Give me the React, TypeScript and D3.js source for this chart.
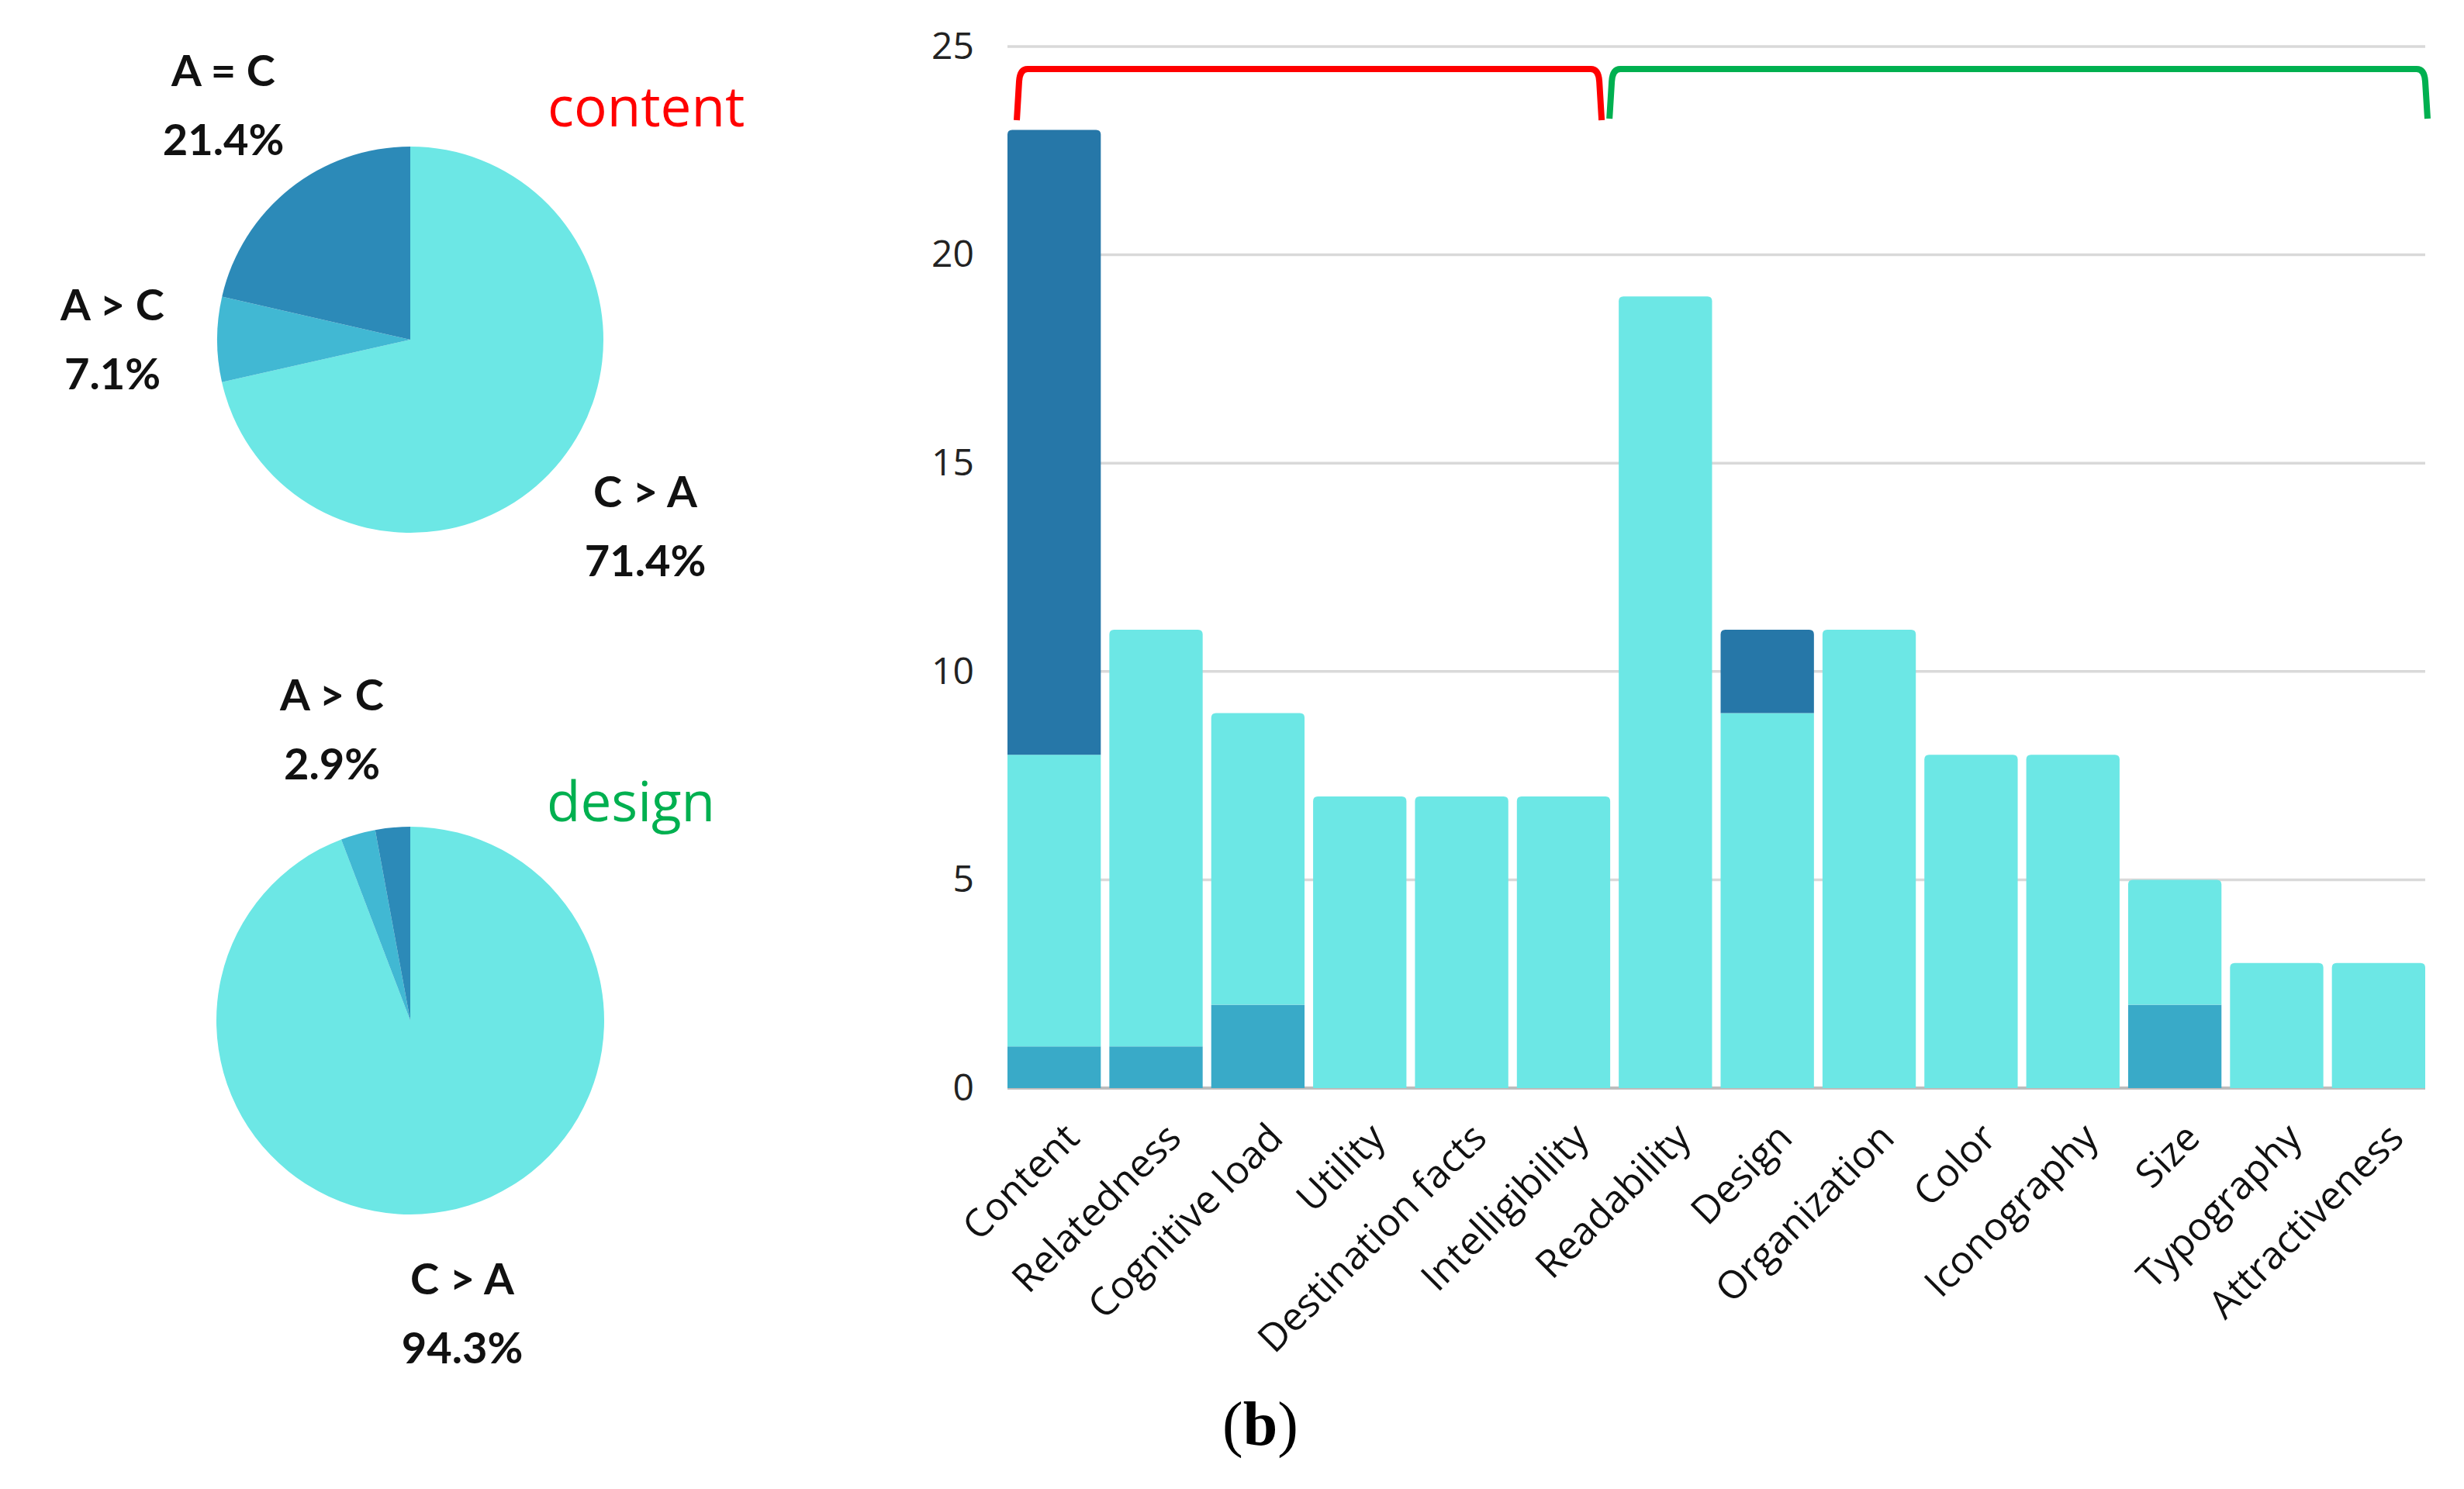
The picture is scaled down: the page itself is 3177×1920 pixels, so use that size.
import React from 'react';
import * as d3 from 'd3';

const categories = ['Content', 'Relatedness', 'Cognitive load', 'Utility', 'Destination facts', 'Intelligibility', 'Readability', 'Design', 'Organization', 'Color', 'Iconography', 'Size', 'Typography', 'Attractiveness'];
const aGreaterC = [1, 1, 2, 0, 0, 0, 0, 0, 0, 0, 0, 2, 0, 0];
const cGreaterA = [7, 10, 7, 7, 7, 7, 19, 9, 11, 8, 8, 3, 3, 3];
const aEqualC = [15, 0, 0, 0, 0, 0, 0, 2, 0, 0, 0, 0, 0, 0];
const yTicks = [0, 5, 10, 15, 20, 25];

const pieKeys = ['C > A', 'A > C', 'A = C'];
const contentPie = [71.4, 7.1, 21.4];
const designPie = [94.3, 2.9, 2.9];
const contentGroup = ['Content', 'Intelligibility'];
const designGroup = ['Readability', 'Attractiveness'];

const W = 3177;
const H = 1920;

const barColors = ['#39AAC8', '#6CE7E5', '#2677A8'];
const pieColors = ['#6CE7E5', '#41B8D3', '#2C8AB8'];

function topRounded(x: number, y: number, w: number, h: number, r: number) {
  const rr = Math.min(r, h);
  return `M${x},${y + h}V${y + rr}Q${x},${y} ${x + rr},${y}H${x + w - rr}Q${x + w},${y} ${x + w},${y + rr}V${y + h}Z`;
}

function bracket(x0: number, x1: number, yTop: number, yBot: number) {
  return `M${x0},${yBot}L${x0 + 3},${yTop + 16}Q${x0 + 4},${yTop} ${x0 + 14},${yTop}H${x1 - 14}Q${x1 - 4},${yTop} ${x1 - 3},${yTop + 16}L${x1},${yBot}`;
}

function Pie({ values, cx, cy, r }: { values: number[]; cx: number; cy: number; r: number }) {
  const arcs = d3.pie<number>().sort(null).startAngle(0).endAngle(2 * Math.PI)(values);
  const arc = d3.arc<d3.PieArcDatum<number>>().innerRadius(0).outerRadius(r);
  return (
    <g transform={`translate(${cx},${cy})`}>
      {arcs.map((a, i) => (
        <path key={i} d={arc(a) || ''} fill={pieColors[i]} />
      ))}
    </g>
  );
}

function PieLabel({ x, y, title, value }: { x: number; y: number; title: string; value: number }) {
  return (
    <g fontFamily="Lato, 'Open Sans', sans-serif" fontWeight={700} fontSize={56} fill="#111" textAnchor="middle">
      <text x={x} y={y}>{title}</text>
      <text x={x} y={y + 89}>{value.toFixed(1)}%</text>
    </g>
  );
}

export default function App() {
  const x = d3.scaleBand<string>().domain(categories).range([1299, 3127]).paddingInner(0.084).paddingOuter(0);
  const y = d3.scaleLinear().domain([0, 25]).range([1403, 60]);
  const bw = x.bandwidth();

  const stackData = categories.map((c, i) => ({ c, a: aGreaterC[i], b: cGreaterA[i], e: aEqualC[i] }));
  const series = d3.stack<any>().keys(['a', 'b', 'e'])(stackData);

  const redX0 = (x(contentGroup[0]) || 0) + 12;
  const redX1 = (x(contentGroup[1]) || 0) + bw - 11;
  const greenX0 = (x(designGroup[0]) || 0) - 12;
  const greenX1 = (x(designGroup[1]) || 0) + bw + 3;

  return (
    <svg width={W} height={H} style={{ position: 'absolute', left: 0, top: 0, background: '#fff' }}>
      <rect x={0} y={0} width={W} height={H} fill="#fff" />

      {/* Pies */}
      <Pie values={contentPie} cx={529} cy={438} r={249} />
      <Pie values={designPie} cx={529} cy={1316} r={250} />

      <PieLabel x={288} y={111} title={pieKeys[2]} value={contentPie[2]} />
      <PieLabel x={145} y={413} title={pieKeys[1]} value={contentPie[1]} />
      <PieLabel x={832} y={654} title={pieKeys[0]} value={contentPie[0]} />
      <PieLabel x={428} y={916} title={pieKeys[1]} value={designPie[1]} />
      <PieLabel x={596} y={1669} title={pieKeys[0]} value={designPie[0]} />

      <text x={706} y={163} fontFamily="'Open Sans', sans-serif" fontSize={71} fill="#FF0000">content</text>
      <text x={705} y={1059} fontFamily="'Open Sans', sans-serif" fontSize={71} fill="#00B050">design</text>

      {/* Grid */}
      {yTicks.map((t) => (
        <g key={t}>
          <line x1={1299} x2={3127} y1={y(t)} y2={y(t)} stroke={t === 0 ? '#BDBDBD' : '#D9D9D9'} strokeWidth={t === 0 ? 4 : 3.5} />
          <text x={1256} y={y(t)} dy="0.33em" textAnchor="end" fontFamily="'Open Sans', sans-serif" fontSize={48} fill="#222">{t}</text>
        </g>
      ))}

      {/* Bars */}
      {categories.map((c, i) => {
        const x0 = x(c) || 0;
        let topIdx = -1;
        series.forEach((s, k) => { if (s[i][1] - s[i][0] > 0) topIdx = k; });
        return (
          <g key={c}>
            {series.map((s, k) => {
              const v0 = s[i][0];
              const v1 = s[i][1];
              if (v1 - v0 <= 0) return null;
              const yt = y(v1);
              const h = y(v0) - y(v1);
              return k === topIdx ? (
                <path key={k} d={topRounded(x0, yt, bw, h, 6)} fill={barColors[k]} />
              ) : (
                <rect key={k} x={x0} y={yt} width={bw} height={h} fill={barColors[k]} />
              );
            })}
          </g>
        );
      })}

      {/* X labels */}
      {categories.map((c) => {
        const cx = (x(c) || 0) + bw / 2 + 10;
        return (
          <text key={c} transform={`translate(${cx},${1403 + 42}) rotate(-45)`} dy="0.71em" textAnchor="end" fontFamily="'Open Sans', sans-serif" fontSize={50} fill="#111">{c}</text>
        );
      })}

      {/* Brackets */}
      <path d={bracket(redX0, redX1, 89, 155)} fill="none" stroke="#FF0000" strokeWidth={8} />
      <path d={bracket(greenX0, greenX1, 89, 153)} fill="none" stroke="#00B050" strokeWidth={8} />

      <text x={1625} y={1863} textAnchor="middle" fontFamily="'Liberation Serif', 'Times New Roman', serif" fontSize={80} fill="#000">
        (<tspan fontWeight={700}>b</tspan>)
      </text>
    </svg>
  );
}
